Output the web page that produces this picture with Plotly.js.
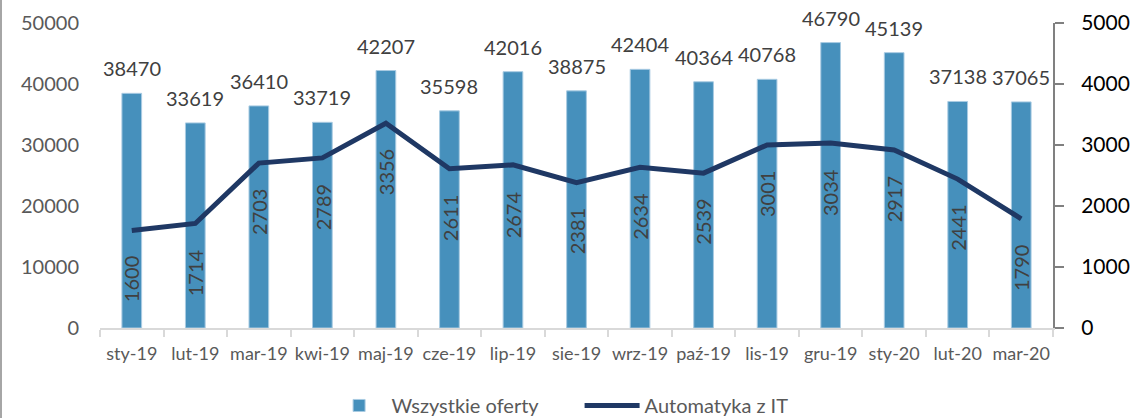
<!DOCTYPE html>
<html>
<head>
<meta charset="utf-8">
<script src="https://cdn.plot.ly/plotly-3.0.1.min.js"></script>
<style>
  html, body { margin: 0; padding: 0; background: #fff; }
  #chart { width: 1134px; height: 418px; }
  #frame { position: absolute; left: 0; top: 0; width: 2px; height: 418px; background: #a6a6a6; }
</style>
</head>
<body>
<div id="chart"></div>
<div id="frame"></div>
<script>
const categories = ["sty-19","lut-19","mar-19","kwi-19","maj-19","cze-19","lip-19","sie-19","wrz-19","paź-19","lis-19","gru-19","sty-20","lut-20","mar-20"];
const allOffers = [38470,33619,36410,33719,42207,35598,42016,38875,42404,40364,40768,46790,45139,37138,37065];
const automationIT = [1600,1714,2703,2789,3356,2611,2674,2381,2634,2539,3001,3034,2917,2441,1790];
const seriesNames = ["Wszystkie oferty", "Automatyka z IT"];

const FONT = "Lato, 'Open Sans', sans-serif";

const barTrace = {
  type: "bar",
  name: seriesNames[0],
  x: categories,
  y: allOffers,
  width: 0.31,
  marker: { color: "#4690bc", line: { color: "#a9cbe2", width: 1 } },
  hoverinfo: "x+y"
};

const lineTrace = {
  type: "scatter",
  mode: "lines",
  name: seriesNames[1],
  x: categories,
  y: automationIT,
  yaxis: "y2",
  line: { color: "#1f3864", width: 5 },
  hoverinfo: "x+y"
};

const annotations = [];
categories.forEach((c, i) => {
  annotations.push({
    x: c, y: allOffers[i], xref: "x", yref: "y",
    text: String(allOffers[i]), showarrow: false,
    yanchor: "bottom", yshift: 11,
    font: { family: FONT, size: 20, color: "#404040" }
  });
  annotations.push({
    x: c, y: automationIT[i], xref: "x", yref: "y2",
    text: String(automationIT[i]), showarrow: false,
    textangle: -90, yanchor: "top", yshift: -24,
    font: { family: FONT, size: 20, color: "#404040" }
  });
});

const layout = {
  width: 1134,
  height: 418,
  margin: { l: 100, r: 81, t: 23, b: 90 },
  paper_bgcolor: "#fff",
  plot_bgcolor: "#fff",
  font: { family: FONT, size: 20, color: "#595959" },
  showlegend: true,
  legend: {
    orientation: "h",
    xref: "container", yref: "container",
    x: 0.288, xanchor: "left",
    y: 0.03, yanchor: "middle",
    font: { family: FONT, size: 20, color: "#595959" },
    itemwidth: 55,
    entrywidth: 183,
    traceorder: "normal"
  },
  xaxis: {
    type: "category",
    showline: true, linecolor: "#d9d9d9", linewidth: 1.5,
    ticks: "outside", tickson: "boundaries", ticklen: 7, tickcolor: "#d9d9d9", tickwidth: 1.5,
    tickangle: 0,
    tickfont: { family: FONT, size: 18, color: "#595959" },
    ticklabelstandoff: 9,
    showgrid: false, zeroline: false, fixedrange: true
  },
  yaxis: {
    range: [0, 50000], dtick: 10000, tick0: 0, tickformat: "d",
    showline: false, showgrid: false, zeroline: false,
    ticks: "", tickfont: { family: FONT, size: 20, color: "#595959" },
    ticklabelstandoff: 20, fixedrange: true
  },
  yaxis2: {
    overlaying: "y", side: "right",
    range: [0, 5000], dtick: 1000, tick0: 0, tickformat: "d",
    showline: true, linecolor: "#808080", linewidth: 2,
    ticks: "outside", ticklen: 9, tickcolor: "#808080", tickwidth: 2,
    tickfont: { family: FONT, size: 21, color: "#000000" },
    ticklabelstandoff: 13,
    showgrid: false, zeroline: false, fixedrange: true
  },
  annotations: annotations,
  bargap: 0.69
};

Plotly.newPlot("chart", [barTrace, lineTrace], layout, { displayModeBar: false });
</script>
</body>
</html>
